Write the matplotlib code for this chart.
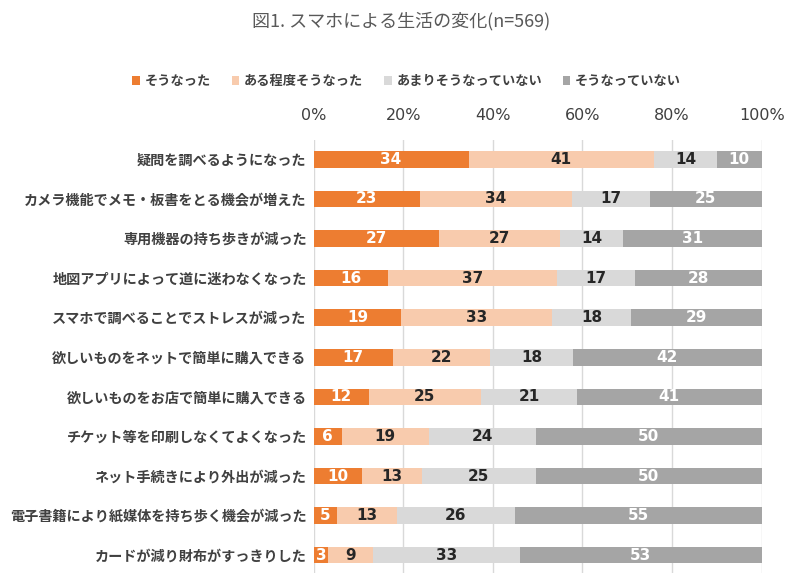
#!/usr/bin/env python3
"""
Stacked 100% bar chart: changes in life due to smartphones (n=569).
"""

import numpy as np
import matplotlib
matplotlib.use('Agg')
import matplotlib.pyplot as plt
from matplotlib.patches import Patch

plt.rcParams['font.family'] = ['Noto Sans CJK JP', 'DejaVu Sans']

title = '図1. スマホによる生活の変化(n=569)'

categories = [
    '疑問を調べるようになった',
    'カメラ機能でメモ・板書をとる機会が増えた',
    '専用機器の持ち歩きが減った',
    '地図アプリによって道に迷わなくなった',
    'スマホで調べることでストレスが減った',
    '欲しいものをネットで簡単に購入できる',
    '欲しいものをお店で簡単に購入できる',
    'チケット等を印刷しなくてよくなった',
    'ネット手続きにより外出が減った',
    '電子書籍により紙媒体を持ち歩く機会が減った',
    'カードが減り財布がすっきりした',
]

series_names = ['そうなった', 'ある程度そうなった', 'あまりそうなっていない', 'そうなっていない']

# segment widths (%)
yes = [34.6, 23.8, 28.0, 16.7, 19.6, 17.7, 12.3, 6.3, 10.8, 5.2, 3.3]
somewhat = [41.4, 33.8, 27.1, 37.6, 33.5, 21.7, 25.1, 19.4, 13.4, 13.4, 10.0]
not_really = [14.0, 17.4, 14.0, 17.4, 17.8, 18.5, 21.4, 23.9, 25.4, 26.3, 32.8]
no = [10.0, 25.0, 30.9, 28.3, 29.1, 42.1, 41.2, 50.4, 50.4, 55.1, 53.9]

# numbers printed on the bars
yes_lbl = [34, 23, 27, 16, 19, 17, 12, 6, 10, 5, 3]
somewhat_lbl = [41, 34, 27, 37, 33, 22, 25, 19, 13, 13, 9]
not_really_lbl = [14, 17, 14, 17, 18, 18, 21, 24, 25, 26, 33]
no_lbl = [10, 25, 31, 28, 29, 42, 41, 50, 50, 55, 53]

x_ticks = [0, 20, 40, 60, 80, 100]

colors = ['#ED7D31', '#F8CBAD', '#D9D9D9', '#A5A5A5']
text_colors = ['white', '#262626', '#262626', 'white']


def main():
    fig = plt.figure(figsize=(7.99, 5.83), dpi=100)
    ax = fig.add_axes([0.3924, 0.0172, 0.5609, 0.7427])

    y = np.arange(len(categories))
    left = np.zeros(len(categories))
    values = [yes, somewhat, not_really, no]
    labels = [yes_lbl, somewhat_lbl, not_really_lbl, no_lbl]

    for vals, lbls, col, tcol in zip(values, labels, colors, text_colors):
        vals = np.array(vals)
        bars = ax.barh(y, vals, left=left, height=0.42, color=col, zorder=2)
        ax.bar_label(bars, labels=[str(v) for v in lbls], label_type='center',
                     color=tcol, fontsize=11, fontweight='bold',
                     family='DejaVu Sans')
        left += vals

    ax.set_xlim(0, 100)
    ax.set_ylim(10.45, -0.49)
    ax.set_yticks(y)
    ax.set_yticklabels(categories, fontsize=10.2, fontweight='bold', color='#404040')
    ax.set_xticks(x_ticks)
    ax.set_xticklabels([f'{t}%' for t in x_ticks], fontsize=11.5,
                       color='#404040', family='DejaVu Sans')
    ax.xaxis.tick_top()
    ax.tick_params(axis='x', length=0, pad=12)
    ax.tick_params(axis='y', length=0, pad=5)

    for s in ax.spines.values():
        s.set_visible(False)
    ax.grid(axis='x', color='#D9D9D9', linewidth=1.0, zorder=0)
    ax.set_axisbelow(True)

    handles = [Patch(facecolor=c, edgecolor='none') for c in colors]
    fig.legend(handles, series_names, loc='center', bbox_to_anchor=(0.509, 0.861),
               ncol=4, frameon=False, handlelength=0.6, handleheight=0.6,
               handletextpad=0.35, columnspacing=1.55,
               prop={'size': 9.5, 'weight': 'bold'}, labelcolor='#404040')

    fig.text(0.502, 0.964, title, ha='center', va='center', fontsize=13,
             color='#595959')

    fig.savefig('out.png', dpi=100)


if __name__ == '__main__':
    main()
